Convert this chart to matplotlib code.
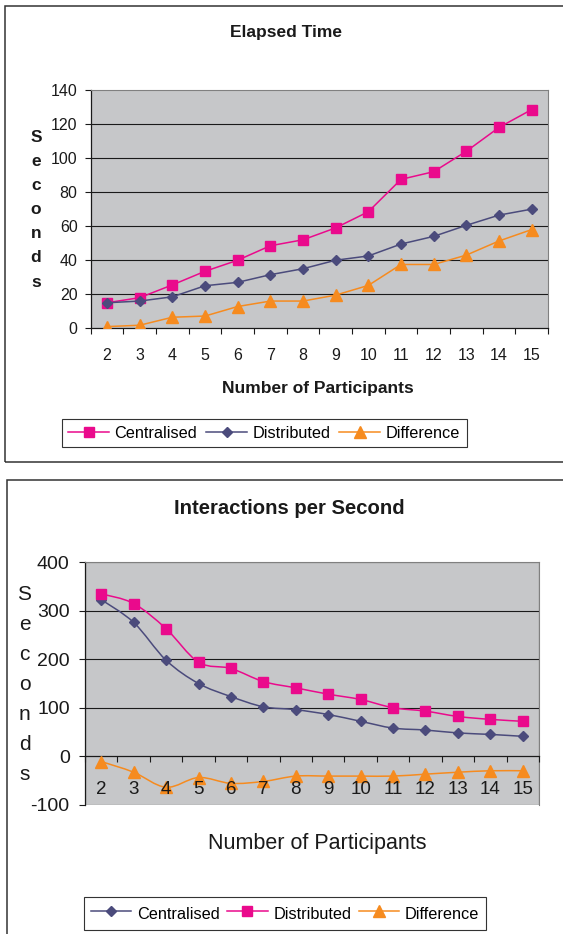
import numpy as np
import matplotlib
matplotlib.use("Agg")
import matplotlib.pyplot as plt
from matplotlib.path import Path
from matplotlib.patches import PathPatch, Rectangle
from matplotlib.lines import Line2D

plt.rcParams['font.family'] = ['Liberation Sans', 'DejaVu Sans']
plt.rcParams['axes.unicode_minus'] = False

# ---- data ----
participants = [2, 3, 4, 5, 6, 7, 8, 9, 10, 11, 12, 13, 14, 15]

# Elapsed Time (seconds)
time_central = [15, 18, 25.5, 33.5, 40, 48.5, 52, 59, 68.5, 87.5, 92, 104, 118, 128.5]
time_distrib = [15, 16, 18.5, 25, 27, 31.5, 35, 40, 42.5, 49.5, 54, 60.5, 66.5, 70]
time_diff = [1, 1.8, 6.5, 7.2, 12.8, 16, 16, 19.5, 25.2, 37.5, 37.5, 43, 51.3, 58]

# Interactions per Second
ips_central = [323, 276, 198, 150, 123, 102, 96, 86, 72, 58, 54, 48, 45, 41]
ips_distrib = [335, 315, 263, 194, 181, 154, 141, 128, 117, 100, 93, 82, 76, 72]
ips_diff = [-11, -33, -64, -44, -56, -52, -41, -41, -41, -41, -37, -33, -30, -30]

PINK = '#ea0a8c'
NAVY = '#4b4b7c'
ORANGE = '#f68b1f'
BG = '#c6c7c9'

W, H = 563, 934
fig = plt.figure(figsize=(W / 100, H / 100), dpi=100)


def box(l, t, r, b):
    return [l / W, 1 - b / H, (r - l) / W, (b - t) / H]


def fxy(x, y):
    return x / W, 1 - y / H


def smooth_path(xs, ys):
    # bezier curve through the points, like Excel's "smoothed line"
    n = len(xs)
    verts = [(xs[0], ys[0])]
    codes = [Path.MOVETO]
    for i in range(n - 1):
        a = i - 1 if i > 0 else i
        d = i + 2 if i + 2 < n else i + 1
        c1 = (xs[i] + (xs[i + 1] - xs[a]) / 6, ys[i] + (ys[i + 1] - ys[a]) / 6)
        c2 = (xs[i + 1] - (xs[d] - xs[i]) / 6, ys[i + 1] - (ys[d] - ys[i]) / 6)
        verts += [c1, c2, (xs[i + 1], ys[i + 1])]
        codes += [Path.CURVE4] * 3
    return Path(verts, codes)


# outer frames
fig.patches.append(Rectangle(fxy(4.5, 461.5), 700 / W, 456 / H, transform=fig.transFigure,
                             fill=False, edgecolor='#333333', lw=1.1))
fig.patches.append(Rectangle(fxy(7.5, 1000), 700 / W, 520 / H, transform=fig.transFigure,
                             fill=False, edgecolor='#333333', lw=1.1))

pos = np.arange(len(participants))

# ================= top chart =================
ax1 = fig.add_axes(box(90.7, 90, 548, 328.3))
ax1.set_facecolor(BG)
for v in range(20, 140, 20):
    ax1.axhline(v, color='#1a1a1a', lw=0.8, zorder=1)
ax1.plot(pos, time_central, '-s', color=PINK, ms=7, lw=1.1, zorder=3)
ax1.plot(pos, time_distrib, '-D', color=NAVY, ms=5.5, lw=1.1, zorder=4)
ax1.plot(pos, time_diff, '-^', color=ORANGE, ms=8, lw=1.1, zorder=5)
ax1.set_xlim(-0.5, len(participants) - 0.5)
ax1.set_ylim(0, 140)
ax1.set_yticks(range(0, 141, 20))
ax1.tick_params(axis='y', direction='out', length=4.5, width=0.8, pad=5, labelsize=11.5,
                colors='#1a1a1a')
ax1.set_xticks(pos)
ax1.set_xticklabels([str(p) for p in participants])
ax1.tick_params(axis='x', which='major', length=0, pad=14.5, labelsize=11.5, colors='#1a1a1a')
ax1.set_xticks(np.arange(-0.5, len(participants), 1), minor=True)
ax1.tick_params(axis='x', which='minor', direction='out', length=4.3, width=0.8, color='#1a1a1a')
for s in ['top', 'right']:
    ax1.spines[s].set_color('#808080')
for s in ['left', 'bottom']:
    ax1.spines[s].set_color('#1a1a1a')
    ax1.spines[s].set_linewidth(0.9)

fig.text(*fxy(286, 33), 'Elapsed Time', ha='center', va='center', fontsize=12.5,
         fontweight='bold', color='#1a1a1a')
fig.text(*fxy(318, 388), 'Number of Participants', ha='center', va='center', fontsize=12.5,
         fontweight='bold', color='#1a1a1a')
for i, ch in enumerate('Seconds'):
    fig.text(*fxy(36, 137 + i * 24.2), ch, ha='center', va='center', fontsize=12.5,
             fontweight='bold', color='#1a1a1a')

leg_kw = dict(ncol=3, loc='upper left', borderaxespad=0, fontsize=11.7, handlelength=2.5,
              handletextpad=0.35, columnspacing=0.55, borderpad=0.4, fancybox=False,
              framealpha=1, edgecolor='#333333')

h_top = [Line2D([], [], color=PINK, marker='s', ms=7, lw=1.1),
         Line2D([], [], color=NAVY, marker='D', ms=5.5, lw=1.1),
         Line2D([], [], color=ORANGE, marker='^', ms=8, lw=1.1)]
leg1 = fig.legend(h_top, ['Centralised', 'Distributed', 'Difference'],
                  bbox_to_anchor=fxy(61.7, 419), **leg_kw)
leg1.get_frame().set_linewidth(0.8)

# ================= bottom chart =================
ax2 = fig.add_axes(box(85, 562.3, 539, 804.7))
ax2.set_facecolor(BG)
for v in (100, 200, 300):
    ax2.axhline(v, color='#1a1a1a', lw=0.8, zorder=1)
for ys, col, mk, ms, z in [(ips_central, NAVY, 'D', 5.5, 3),
                           (ips_distrib, PINK, 's', 7, 4),
                           (ips_diff, ORANGE, '^', 8, 5)]:
    ax2.add_patch(PathPatch(smooth_path(pos, ys), fill=False, edgecolor=col, lw=1.1, zorder=z))
    ax2.plot(pos, ys, ls='none', marker=mk, color=col, ms=ms, zorder=z)
ax2.set_xlim(-0.5, len(participants) - 0.5)
ax2.set_ylim(-100, 400)
ax2.set_yticks(range(-100, 401, 100))
ax2.tick_params(axis='y', direction='out', length=4.5, width=0.8, pad=6.5, labelsize=14,
                colors='#1a1a1a')
ax2.spines['bottom'].set_position(('data', 0))
ax2.set_xticks(pos)
ax2.set_xticklabels([str(p) for p in participants])
ax2.tick_params(axis='x', which='major', length=0, pad=17.5, labelsize=13.5, colors='#1a1a1a')
ax2.set_xticks(np.arange(-0.5, len(participants), 1), minor=True)
ax2.tick_params(axis='x', which='minor', direction='out', length=4.5, width=0.8, color='#1a1a1a')
ax2.xaxis.set_zorder(6)  # category labels sit on top of the markers
for s in ['top', 'right']:
    ax2.spines[s].set_color('#808080')
for s in ['left', 'bottom']:
    ax2.spines[s].set_color('#1a1a1a')
    ax2.spines[s].set_linewidth(0.9)
ax2.add_patch(Rectangle((0, 0), 1, 1, transform=ax2.transAxes, fill=False,
                        edgecolor='#808080', lw=0.9, zorder=0.5))

fig.text(*fxy(289, 508), 'Interactions per Second', ha='center', va='center', fontsize=14.6,
         fontweight='bold', color='#1a1a1a')
fig.text(*fxy(317, 843), 'Number of Participants', ha='center', va='center', fontsize=15.5,
         color='#1a1a1a')
for i, ch in enumerate('Seconds'):
    fig.text(*fxy(24.5, 595 + i * 30), ch, ha='center', va='center', fontsize=15,
             color='#1a1a1a')

h_bot = [Line2D([], [], color=NAVY, marker='D', ms=5.5, lw=1.1),
         Line2D([], [], color=PINK, marker='s', ms=7, lw=1.1),
         Line2D([], [], color=ORANGE, marker='^', ms=8, lw=1.1)]
leg2 = fig.legend(h_bot, ['Centralised', 'Distributed', 'Difference'],
                  bbox_to_anchor=fxy(84, 897), handleheight=1.55,
                  **dict(leg_kw, columnspacing=0.45))
leg2.get_frame().set_linewidth(0.8)

fig.savefig('out.png', dpi=100)
